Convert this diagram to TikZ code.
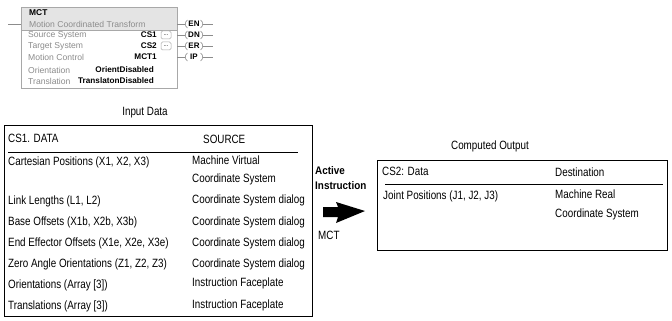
\documentclass[tikz,border=0pt]{standalone}
\usepackage{fontspec}
\setmainfont{Liberation Sans}[FakeStretch=0.82]
\newfontfamily\plcfont{Liberation Sans}
\newfontfamily\boldwide{Liberation Sans}[FakeStretch=0.9]
\usetikzlibrary{calc}
\definecolor{plcgray}{HTML}{8C8C8C}
\definecolor{plcborder}{HTML}{A8A8A8}
\definecolor{plcfill}{HTML}{E4E4E4}
\tikzset{
  txt/.style={inner sep=0pt, anchor=west, font=\fontsize{12}{14}\selectfont},
  plclabel/.style={inner sep=0pt, anchor=west, text=plcgray, font=\plcfont\fontsize{8.6}{10}\selectfont},
  plcval/.style={inner sep=0pt, anchor=east, text=black, font=\plcfont\bfseries\fontsize{8.2}{10}\selectfont},
  coiltxt/.style={inner sep=0pt, font=\plcfont\bfseries\fontsize{8}{9}\selectfont},
  plcline/.style={draw=plcgray, line width=0.6pt},
  boxline/.style={draw=black, line width=0.7pt},
  btn/.style={draw=plcborder, fill=white, rounded corners=1.5pt, line width=0.5pt, minimum width=10pt, minimum height=8pt, inner sep=0pt, font=\plcfont\fontsize{6}{6}\selectfont},
}
\begin{document}
\begin{tikzpicture}[x=1pt,y=-1pt]
\useasboundingbox (0,0) rectangle (672,321);
% ---------- MCT instruction block ----------
\node[draw=plcborder, fill=white, line width=0.6pt, minimum width=156pt, minimum height=81pt, anchor=north west, inner sep=0pt] (mct) at (21,7) {};
\fill[plcfill] (21.3,7.3) rectangle (176.7,30);
\draw[plcborder, line width=0.6pt] (21,30) -- (177,30);
\draw[plcborder, line width=0.6pt] (mct.north west) rectangle (mct.south east);
\node[inner sep=0pt, anchor=west, font=\plcfont\bfseries\fontsize{8.4}{10}\selectfont] (mcttitle) at (29,13) {MCT};
\node[plclabel] (mctname) at (29,24) {Motion Coordinated Transform};
\coordinate (rungL) at (8,24);
\coordinate (rungIn) at (21,24);
\draw[plcline] (rungL) -- (rungIn);
\node[plclabel] (l1) at (28,35) {Source System};
\node[plclabel] (l2) at (28,46) {Target System};
\node[plclabel] (l3) at (28,57) {Motion Control};
\node[plclabel] (l4) at (28,70) {Orientation};
\node[plclabel] (l5) at (28,81) {Translation};
\node[plcval] (v1) at (157,35) {CS1};
\node[plcval] (v2) at (157,46) {CS2};
\node[plcval] (v3) at (157,57) {MCT1};
\node[plcval] (v4) at (154,70) {OrientDisabled};
\node[plcval] (v5) at (154,81) {TranslatonDisabled};
\node[btn] (b1) at (166,35) {...};
\node[btn] (b2) at (166,46) {...};
% coils
\foreach \t/\yy in {EN/24,DN/35,ER/46,IP/57}{
  \coordinate (cA\t) at (177,\yy);
  \coordinate (cB\t) at (185,\yy);
  \coordinate (cC\t) at (203,\yy);
  \coordinate (cD\t) at (213,\yy);
  \node[coiltxt] (coil\t) at (194,\yy) {\t};
  \draw[plcline] (cA\t) -- (cB\t);
  \draw[plcline] (cC\t) -- (cD\t);
  \draw[plcline] ($(cB\t)+(2.5,-4)$) .. controls ($(cB\t)+(-0.5,-2)$) and ($(cB\t)+(-0.5,2)$) .. ($(cB\t)+(2.5,4)$);
  \draw[plcline] ($(cC\t)+(-2.5,-4)$) .. controls ($(cC\t)+(0.5,-2)$) and ($(cC\t)+(0.5,2)$) .. ($(cC\t)+(-2.5,4)$);
}
% ---------- Input data ----------
\node[inner sep=0pt, font=\fontsize{12}{14}\selectfont] (inlabel) at (145,113) {Input Data};
\node[boxline, minimum width=308pt, minimum height=191pt, anchor=north west, inner sep=0pt] (inbox) at (4,125) {};
\node[txt] (cs1) at (8,138) {CS1. DATA};
\node[txt] (src) at (203,139) {SOURCE};
\coordinate (inlineL) at (8,152);
\coordinate (inlineR) at (298,152);
\draw[black, line width=0.7pt] (inlineL) -- (inlineR);
\node[txt] (r1) at (8,162) {Cartesian Positions (X1, X2, X3)};
\node[txt] (s1a) at (192,160) {Machine Virtual};
\node[txt] (s1b) at (192,179) {Coordinate System};
\node[txt] (r2) at (8,201) {Link Lengths (L1, L2)};
\node[txt] (s2) at (192,200) {Coordinate System dialog};
\node[txt] (r3) at (8,222) {Base Offsets (X1b, X2b, X3b)};
\node[txt] (s3) at (192,222) {Coordinate System dialog};
\node[txt] (r4) at (8,243) {End Effector Offsets (X1e, X2e, X3e)};
\node[txt] (s4) at (192,243) {Coordinate System dialog};
\node[txt] (r5) at (8,264) {Zero Angle Orientations (Z1, Z2, Z3)};
\node[txt] (s5) at (192,264) {Coordinate System dialog};
\node[txt] (r6) at (8,285) {Orientations (Array [3])};
\node[txt] (s6) at (192,283) {Instruction Faceplate};
\node[txt] (r7) at (8,306) {Translations (Array [3])};
\node[txt] (s7) at (192,305) {Instruction Faceplate};
% ---------- Active instruction arrow ----------
\node[inner sep=0pt, anchor=west, font=\boldwide\bfseries\fontsize{11}{13}\selectfont] (act1) at (315,171) {Active};
\node[inner sep=0pt, anchor=west, font=\boldwide\bfseries\fontsize{11}{13}\selectfont] (act2) at (315,186) {Instruction};
\fill[black] (323,207) -- (338,207) -- (336,202) -- (365,211) -- (336,223) -- (338,217) -- (323,217) -- cycle;
\node[txt] (mctlbl) at (318,235) {MCT};
% ---------- Computed output ----------
\node[inner sep=0pt, font=\fontsize{12}{14}\selectfont] (outlabel) at (490,146) {Computed Output};
\node[boxline, minimum width=290pt, minimum height=90pt, anchor=north west, inner sep=0pt] (outbox) at (377,160) {};
\node[txt] (cs2) at (382,171) {CS2: Data};
\node[txt] (dst) at (555,172) {Destination};
\coordinate (outlineL) at (385,184);
\coordinate (outlineR) at (663,184);
\draw[black, line width=0.7pt] (outlineL) -- (outlineR);
\node[txt] (j1) at (383,196) {Joint Positions (J1, J2, J3)};
\node[txt] (d1a) at (555,194) {Machine Real};
\node[txt] (d1b) at (555,214) {Coordinate System};
\end{tikzpicture}
\end{document}
